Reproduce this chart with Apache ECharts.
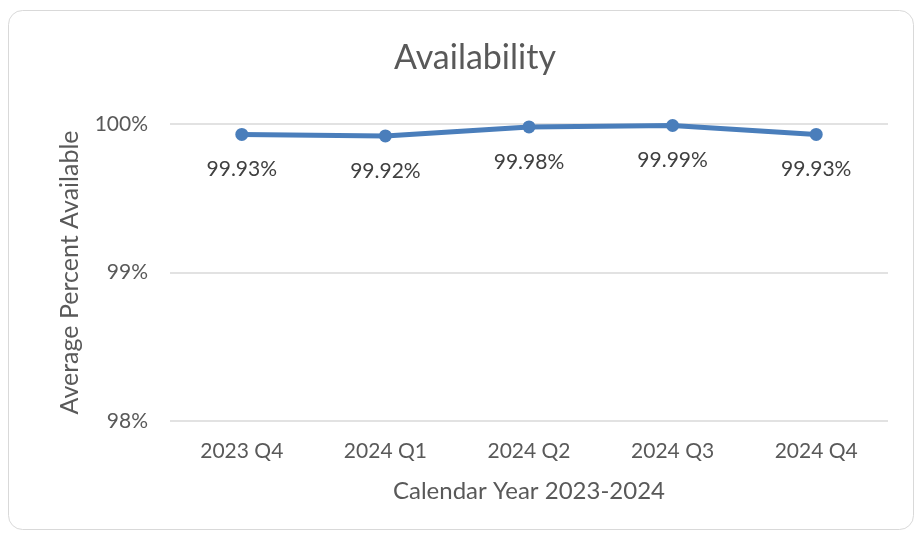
<!DOCTYPE html>
<html>
<head>
<meta charset="utf-8">
<script src="https://cdn.jsdelivr.net/npm/echarts@6/dist/echarts.min.js"></script>
<style>
  html, body { margin: 0; padding: 0; background: #fff; }
  #chart { width: 916px; height: 533px; }
</style>
</head>
<body>
<div id="chart"></div>
<script>
const quarters = ['2023 Q4', '2024 Q1', '2024 Q2', '2024 Q3', '2024 Q4'];
const availability = [99.93, 99.92, 99.98, 99.99, 99.93];
const yTicks = { min: 98, max: 100, step: 1 };

const textColor = '#595959';
const lineColor = '#4a7ebb';
const fontFamily = 'Lato, "Open Sans", sans-serif';

const chart = echarts.init(document.getElementById('chart'));

chart.setOption({
  backgroundColor: '#fff',
  animation: false,
  textStyle: { fontFamily },
  graphic: [
    {
      type: 'rect',
      shape: { x: 8.5, y: 10.5, width: 905, height: 519, r: 14 },
      style: { fill: 'none', stroke: '#d9d9d9', lineWidth: 1 },
      silent: true,
    },
  ],
  title: {
    text: 'Availability',
    left: 389,
    top: 36,
    textStyle: { color: textColor, fontSize: 34, fontWeight: 'normal', fontFamily },
  },
  grid: { left: 170, right: 28, top: 124, bottom: 112 },
  xAxis: {
    type: 'category',
    data: quarters,
    name: 'Calendar Year 2023-2024',
    nameLocation: 'middle',
    nameGap: 58,
    nameTextStyle: { color: textColor, fontSize: 24, fontFamily },
    axisLine: { show: false },
    axisTick: { show: false },
    axisLabel: { color: textColor, fontSize: 21, margin: 20 },
  },
  yAxis: {
    type: 'value',
    min: yTicks.min,
    max: yTicks.max,
    interval: yTicks.step,
    name: 'Average Percent Available',
    nameLocation: 'middle',
    nameGap: 88,
    nameTextStyle: { color: textColor, fontSize: 25, fontFamily },
    axisLine: { show: false },
    axisTick: { show: false },
    axisLabel: { color: textColor, fontSize: 21, margin: 22, formatter: '{value}%' },
    splitLine: { lineStyle: { color: '#d9d9d9', width: 1.5 } },
  },
  series: [
    {
      name: 'Availability',
      type: 'line',
      data: availability,
      symbol: 'circle',
      symbolSize: 13,
      lineStyle: { color: lineColor, width: 5 },
      itemStyle: { color: lineColor },
      label: {
        show: true,
        position: 'bottom',
        distance: 18,
        color: '#404040',
        fontSize: 21,
        formatter: (p) => p.value.toFixed(2) + '%',
      },
    },
  ],
});
</script>
</body>
</html>
